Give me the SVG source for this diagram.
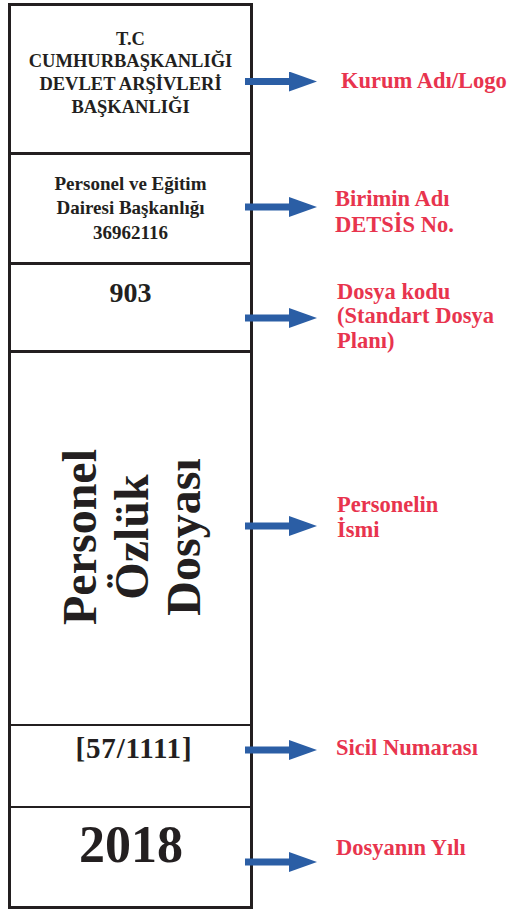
<svg xmlns="http://www.w3.org/2000/svg" width="508" height="909" viewBox="0 0 508 909">
<style>
.frame{fill:none;stroke:#231f20;stroke-width:3}
.div{stroke:#231f20;stroke-width:3}
.div2{stroke:#231f20;stroke-width:2}
.t{font-family:"Liberation Serif",serif;font-weight:bold;fill:#231f20;text-anchor:middle}
.lab{font-family:"Liberation Serif",serif;font-weight:bold;fill:#e8344e;font-size:22.5px}
.arr{stroke:#2b5ea5;stroke-width:7;fill:none}
</style>
<defs>
<marker id="ah" markerUnits="userSpaceOnUse" markerWidth="28" markerHeight="20" refX="0" refY="10" orient="auto">
<path d="M0,0 L28,10 L0,20 Z" fill="#2b5ea5"/>
</marker>
</defs>
<rect class="frame" x="9.5" y="4.5" width="242" height="903"/>
<g id="dividers">
<line class="div" x1="9" y1="153.5" x2="252" y2="153.5"/>
<line class="div" x1="9" y1="263.5" x2="252" y2="263.5"/>
<line class="div" x1="9" y1="351.5" x2="252" y2="351.5"/>
<line class="div2" x1="9" y1="725" x2="252" y2="725"/>
<line class="div2" x1="9" y1="807" x2="252" y2="807"/>
</g>
<g id="node-kurum">
<text class="t" font-size="18.5" x="130.5" y="45">T.C</text>
<text class="t" font-size="18.5" x="130.5" y="67">CUMHURBAŞKANLIĞI</text>
<text class="t" font-size="18.5" x="130.5" y="90">DEVLET ARŞİVLERİ</text>
<text class="t" font-size="18.5" x="130.5" y="113">BAŞKANLIĞI</text>
</g>
<g id="node-birim">
<text class="t" font-size="19" x="130.5" y="190">Personel ve Eğitim</text>
<text class="t" font-size="19" x="130.5" y="214">Dairesi Başkanlığı</text>
<text class="t" font-size="19" x="130.5" y="239">36962116</text>
</g>
<g id="node-kod">
<text class="t" font-size="28" x="130.5" y="302">903</text>
</g>
<g id="node-isim">
<text class="t" font-size="48" transform="translate(96,537) rotate(-90)">Personel</text>
<text class="t" font-size="48" transform="translate(148,537) rotate(-90)">Özlük</text>
<text class="t" font-size="48" transform="translate(200,537) rotate(-90)">Dosyası</text>
</g>
<g id="node-sicil">
<text class="t" font-size="29" letter-spacing="0.8" x="134" y="758">[57/1111]</text>
</g>
<g id="node-yil">
<text class="t" font-size="52" x="131" y="862">2018</text>
</g>
<g id="connectors">
<line class="arr" x1="245" y1="81.5" x2="289" y2="81.5" marker-end="url(#ah)"/>
<line class="arr" x1="245" y1="207" x2="289" y2="207" marker-end="url(#ah)"/>
<line class="arr" x1="245" y1="318" x2="289" y2="318" marker-end="url(#ah)"/>
<line class="arr" x1="245" y1="526" x2="289" y2="526" marker-end="url(#ah)"/>
<line class="arr" x1="245" y1="750" x2="289" y2="750" marker-end="url(#ah)"/>
<line class="arr" x1="245" y1="862" x2="289" y2="862" marker-end="url(#ah)"/>
</g>
<g id="labels">
<text class="lab" x="341" y="88">Kurum Adı/Logo</text>
<text class="lab" x="335" y="206">Birimin Adı</text>
<text class="lab" x="335" y="232">DETSİS No.</text>
<text class="lab" x="337" y="299">Dosya kodu</text>
<text class="lab" x="337" y="323">(Standart Dosya</text>
<text class="lab" x="337" y="348">Planı)</text>
<text class="lab" x="337" y="512">Personelin</text>
<text class="lab" x="337" y="537">İsmi</text>
<text class="lab" x="336" y="755">Sicil Numarası</text>
<text class="lab" x="336" y="855">Dosyanın Yılı</text>
</g>
</svg>
